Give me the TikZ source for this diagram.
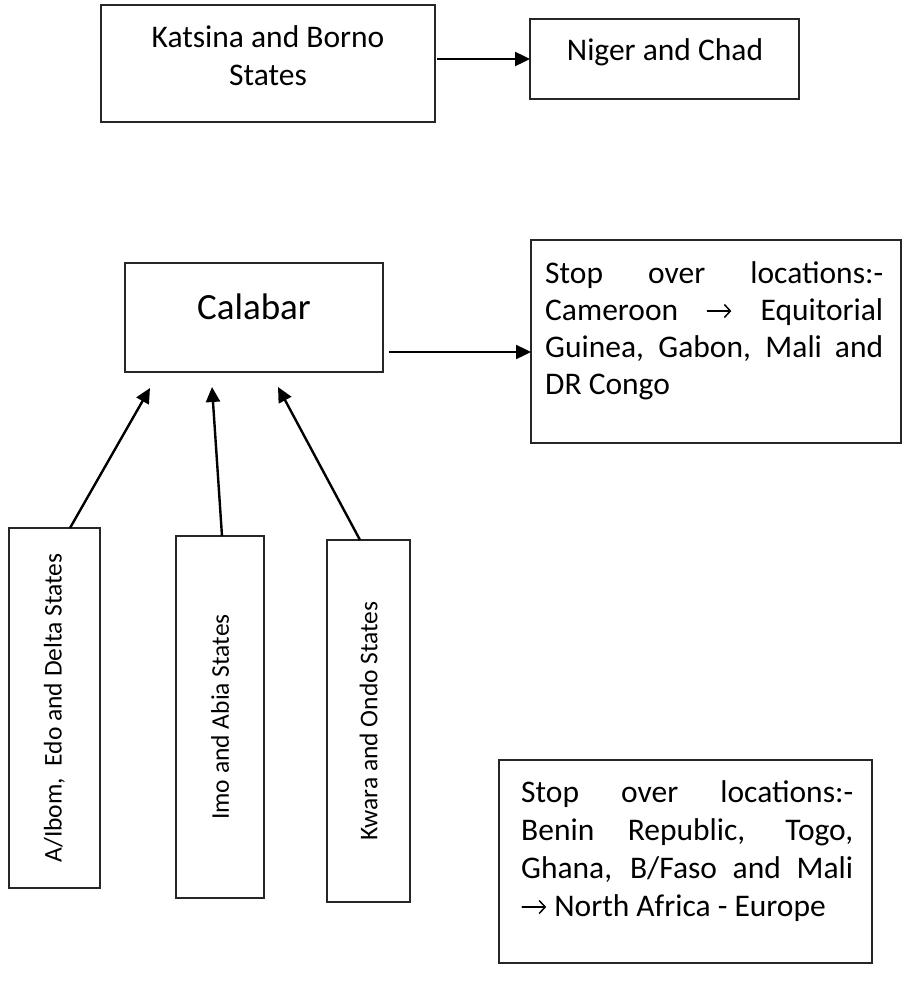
\documentclass[tikz,border=0pt]{standalone}
\usepackage{fontspec}
\setmainfont{Carlito}
\usetikzlibrary{arrows.meta}
\newcommand{\rarr}{\tikz[x=1pt,y=1pt,baseline=0pt]{\path (0,0) -- (26,0); \draw[black,line width=1.5pt,line cap=round,-{Straight Barb[length=6pt,width=13pt,line width=1.5pt]}] (1,9) -- (25,9);}}
\begin{document}
\begin{tikzpicture}[x=1pt,y=-1pt,
  box/.style={draw=black!85,line width=1.3pt,rectangle,inner sep=0pt,outer sep=0pt},
  conn/.style={line width=2.4pt,-{Triangle[length=15pt,width=14pt]}},
  txt/.style={inner sep=0pt,font=\fontsize{31.5}{37}\selectfont},
  rtxt/.style={inner sep=0pt,rotate=90,font=\fontsize{25.5}{30}\selectfont},
  line/.style={inner sep=0pt,anchor=base west,font=\fontsize{31.5}{37}\selectfont}]
\useasboundingbox (0,0) rectangle (908,990);
% boxes
\node[box,minimum width=334pt,minimum height=117pt] (kat) at (268,63.5) {};
\node[box,minimum width=269pt,minimum height=80pt] (nig) at (664.5,59) {};
\node[box,minimum width=258pt,minimum height=109pt] (cal) at (254,317.5) {};
\node[box,minimum width=370pt,minimum height=203pt] (stop1) at (716,341.5) {};
\node[box,minimum width=373pt,minimum height=203pt] (stop2) at (685.5,861.5) {};
\node[box,minimum width=91pt,minimum height=360pt] (aib) at (54.5,708) {};
\node[box,minimum width=88pt,minimum height=362pt] (imo) at (220,717) {};
\node[box,minimum width=83pt,minimum height=362pt] (kwa) at (368.5,721) {};
% texts
\node[txt,anchor=base] (katT1) at (268,48) {Katsina and Borno};
\node[txt,anchor=base] (katT2) at (268,85) {States};
\node[txt,anchor=base] (nigT) at (665,60) {Niger and Chad};
\node[inner sep=0pt,anchor=base,font=\fontsize{37}{44}\selectfont] (calT) at (254,319) {Calabar};
\node[line] (s1a) at (545,283) {\makebox[338pt][s]{Stop over locations:-}};
\node[line] (s1b) at (545,320) {\makebox[338pt][s]{Cameroon \rarr{} Equitorial}};
\node[line] (s1c) at (545,357) {\makebox[338pt][s]{Guinea, Gabon, Mali and}};
\node[line] (s1d) at (545,394) {DR Congo};
\node[line] (s2a) at (521,802) {\makebox[332pt][s]{Stop over locations:-}};
\node[line] (s2b) at (521,840) {\makebox[332pt][s]{Benin Republic, Togo,}};
\node[line] (s2c) at (521,878) {\makebox[332pt][s]{Ghana, B/Faso and Mali}};
\node[line] (s2d) at (521,916) {\rarr{} North Africa - Europe};
\node[rtxt] (aibT) at (aib.center) {A/Ibom,\ \ Edo and Delta States};
\node[rtxt] (imoT) at (imo.center) {Imo and Abia States};
\node[rtxt] (kwaT) at (kwa.center) {Kwara and Ondo States};
% connectors
\coordinate (k1) at ([shift={(2,-4.5)}]kat.east);
\draw[conn] (k1) -- (nig.west);
\coordinate (c1) at ([shift={(6,34.5)}]cal.east);
\draw[conn] (c1) -- (c1 -| stop1.west);
\coordinate (tA) at (150,388);
\coordinate (tI) at (212,387);
\coordinate (tK) at (278,387);
\draw[conn] ([xshift=61pt]aib.north west) -- (tA);
\draw[conn] ([xshift=46pt]imo.north west) -- (tI);
\draw[conn] ([xshift=33pt]kwa.north west) -- (tK);
\end{tikzpicture}
\end{document}
